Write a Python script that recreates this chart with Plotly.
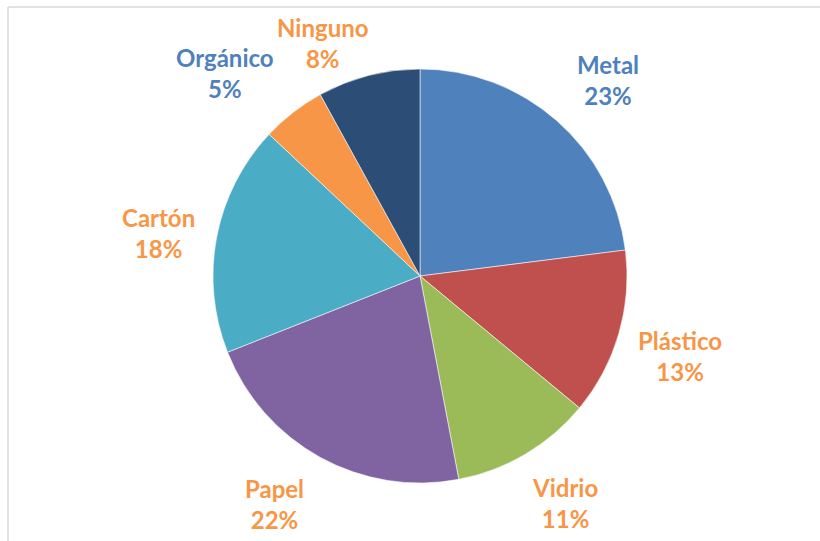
import math
import plotly.graph_objects as go

# Waste categories and their shares (%)
categories = ["Metal", "Plástico", "Vidrio", "Papel", "Cartón", "Orgánico", "Ninguno"]
shares = [23, 13, 11, 22, 18, 5, 8]

slice_colors = ["#4F81BD", "#C0504D", "#9BBB59", "#8064A2", "#4BACC6", "#F79646", "#2C4D75"]
label_colors = ["#4F81BD", "#F79646", "#F79646", "#F79646", "#F79646", "#4F81BD", "#F79646"]

W, H = 820, 541
cx, cy, r = 420, 276, 207
label_dist = 270
# fine nudges (px) applied to each outside label
label_nudge = [(9, 7), (1, 5), (8, -5), (-15, -9), (4, 8), (-30, 10), (-30, 29)]

fig = go.Figure(
    go.Pie(
        labels=categories,
        values=shares,
        sort=False,
        direction="clockwise",
        rotation=0,
        textinfo="none",
        hoverinfo="label+percent",
        marker=dict(colors=slice_colors, line=dict(color="rgba(255,255,255,0.7)", width=0.8)),
        domain=dict(x=[(cx - r) / W, (cx + r) / W], y=[1 - (cy + r) / H, 1 - (cy - r) / H]),
        showlegend=False,
    )
)

# Labels placed outside each slice along its mid-angle
total = sum(shares)
cum = 0
annotations = []
for name, val, col, (dx, dy) in zip(categories, shares, label_colors, label_nudge):
    mid = (cum + val / 2) / total * 2 * math.pi
    cum += val
    px = cx + label_dist * math.sin(mid) + dx
    py = cy - label_dist * math.cos(mid) + dy
    annotations.append(dict(
        x=px / W, y=1 - py / H, xref="paper", yref="paper",
        text=f"<b>{name}<br>{round(val / total * 100)}%</b>",
        showarrow=False, align="center",
        font=dict(family="Lato, Open Sans, sans-serif", size=24, color=col),
        xanchor="center", yanchor="middle",
    ))

# Chart frame (top and left edges visible)
shapes = [
    dict(type="line", xref="paper", yref="paper", x0=8 / W, x1=1, y0=1 - 7 / H, y1=1 - 7 / H,
         line=dict(color="#D9D9D9", width=1.5)),
    dict(type="line", xref="paper", yref="paper", x0=8 / W, x1=8 / W, y0=0, y1=1 - 7 / H,
         line=dict(color="#D9D9D9", width=1.5)),
]

fig.update_layout(
    width=W, height=H,
    margin=dict(l=0, r=0, t=0, b=0),
    paper_bgcolor="white", plot_bgcolor="white",
    annotations=annotations, shapes=shapes,
)

fig.write_html("out.html")
